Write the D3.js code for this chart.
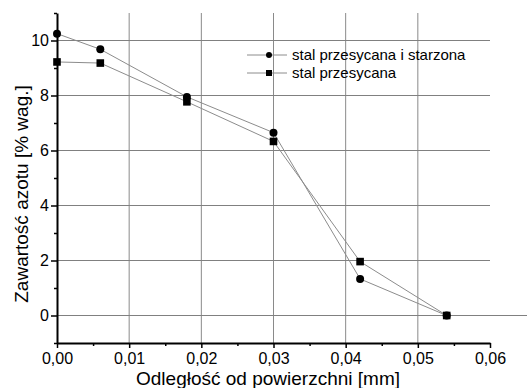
<!DOCTYPE html>
<html>
<head>
<meta charset="utf-8">
<script src="https://cdn.jsdelivr.net/npm/d3@7"></script>
<style>
  body { margin: 0; background: #fff; }
  text { font-family: "Liberation Sans", Arial, sans-serif; fill: #000; }
</style>
</head>
<body>
<div id="chart"></div>
<script>
const distance = [0, 0.006, 0.018, 0.030, 0.042, 0.054];
const agedSteel = [10.25, 9.68, 7.95, 6.65, 1.33, 0.0];
const solutionSteel = [9.22, 9.18, 7.77, 6.33, 1.96, 0.0];
const seriesNames = ["stal przesycana i starzona", "stal przesycana"];
const xTicks = [0, 0.01, 0.02, 0.03, 0.04, 0.05, 0.06];
const yTicks = [0, 2, 4, 6, 8, 10];

const width = 527;
const height = 388;
const margin = { top: 13, right: 37, bottom: 45, left: 57 };

const svg = d3.select("#chart")
  .append("svg")
  .attr("width", width)
  .attr("height", height);

const x = d3.scaleLinear()
  .domain([0, 0.06])
  .range([margin.left, width - margin.right]);

const y = d3.scaleLinear()
  .domain([-1, 11])
  .range([height - margin.bottom, margin.top]);

const pl = d3.formatLocale({ decimal: ",", thousands: " ", grouping: [3], currency: ["", ""] });
const fmt = pl.format(".2f");

// grid
svg.append("g")
  .selectAll("line")
  .data(xTicks.slice(1, -1))
  .join("line")
  .attr("x1", d => x(d)).attr("x2", d => x(d))
  .attr("y1", y(11)).attr("y2", y(-1))
  .attr("stroke", "#8a8a8a").attr("stroke-width", 1);

svg.append("g")
  .selectAll("line")
  .data(yTicks)
  .join("line")
  .attr("x1", x(0)).attr("x2", d => d === 0 ? width : x(0.06))
  .attr("y1", d => y(d)).attr("y2", d => y(d))
  .attr("stroke", "#808080").attr("stroke-width", 1);

// axes
const xAxis = g => g
  .attr("transform", `translate(0,${y(-1)})`)
  .call(d3.axisBottom(x).tickValues(xTicks).tickFormat(fmt).tickSize(5).tickSizeOuter(0))
  .call(g => g.select(".domain").attr("stroke-width", 2))
  .call(g => g.selectAll("text").attr("font-size", "16px").attr("dy", "0.8em"));

const xMinor = g => g
  .attr("transform", `translate(0,${y(-1)})`)
  .call(d3.axisBottom(x).tickValues([0.005, 0.015, 0.025, 0.035, 0.045, 0.055]).tickFormat("").tickSize(3).tickSizeOuter(0))
  .call(g => g.select(".domain").remove());

const yAxis = g => g
  .attr("transform", `translate(${x(0)},0)`)
  .call(d3.axisLeft(y).tickValues(yTicks).tickSize(6).tickSizeOuter(0))
  .call(g => g.select(".domain").attr("stroke-width", 2))
  .call(g => g.selectAll("text").attr("font-size", "16px").attr("x", -8));

const yMinor = g => g
  .attr("transform", `translate(${x(0)},0)`)
  .call(d3.axisLeft(y).tickValues([-1, 1, 3, 5, 7, 9, 11]).tickFormat("").tickSize(3).tickSizeOuter(0))
  .call(g => g.select(".domain").remove());

svg.append("g").call(xMinor);
svg.append("g").call(yMinor);
svg.append("g").call(xAxis);
svg.append("g").call(yAxis);
svg.selectAll(".tick line").attr("stroke-width", 1.5);

// axis titles
svg.append("text")
  .attr("x", 268).attr("y", 385)
  .attr("text-anchor", "middle")
  .attr("font-size", "19px")
  .text("Odległość od powierzchni [mm]");

svg.append("text")
  .attr("transform", `translate(28,${194}) rotate(-90)`)
  .attr("text-anchor", "middle")
  .attr("font-size", "19px")
  .text("Zawartość azotu [% wag.]");

// series
const line = d3.line().x(d => x(d[0])).y(d => y(d[1]));
const aged = distance.map((d, i) => [d, agedSteel[i]]);
const sol = distance.map((d, i) => [d, solutionSteel[i]]);

svg.append("path").datum(aged).attr("d", line)
  .attr("fill", "none").attr("stroke", "#8c8c8c").attr("stroke-width", 1);
svg.append("path").datum(sol).attr("d", line)
  .attr("fill", "none").attr("stroke", "#8c8c8c").attr("stroke-width", 1);

svg.append("g").selectAll("circle")
  .data(aged)
  .join("circle")
  .attr("cx", d => x(d[0])).attr("cy", d => y(d[1]))
  .attr("r", 4).attr("fill", "#000");

svg.append("g").selectAll("rect")
  .data(sol)
  .join("rect")
  .attr("x", d => x(d[0]) - 3.8).attr("y", d => y(d[1]) - 3.8)
  .attr("width", 7.6).attr("height", 7.6).attr("fill", "#000");

// legend
const legend = svg.append("g").attr("transform", "translate(247,55)");
seriesNames.forEach((name, i) => {
  const g = legend.append("g").attr("transform", `translate(0,${i * 18})`);
  g.append("line").attr("x1", 0).attr("x2", 40).attr("y1", 0).attr("y2", 0)
    .attr("stroke", "#8c8c8c").attr("stroke-width", 1);
  if (i === 0) {
    g.append("circle").attr("cx", 22).attr("cy", 0).attr("r", 3).attr("fill", "#000");
  } else {
    g.append("rect").attr("x", 19).attr("y", -3).attr("width", 6).attr("height", 6).attr("fill", "#000");
  }
  g.append("text").attr("x", 45).attr("y", 0).attr("dy", "0.35em")
    .attr("font-size", "15px").text(name);
});
</script>
</body>
</html>
